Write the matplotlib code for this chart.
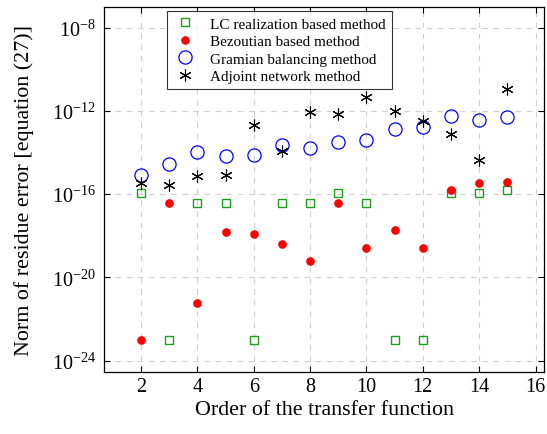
import numpy as np
import matplotlib
matplotlib.use('Agg')
import matplotlib.pyplot as plt
from matplotlib.ticker import FixedLocator, LogFormatterMathtext

plt.rcParams['font.family'] = 'Liberation Serif'
plt.rcParams['mathtext.fontset'] = 'stix'

# Dados (log10 do erro)
ordem = [2, 3, 4, 5, 6, 7, 8, 9, 10, 11, 12, 13, 14, 15]
log_lc = [-15.97, -23.0, -16.43, -16.43, -23.0, -16.43, -16.43,
          -15.95, -16.43, -23.0, -23.0, -15.95, -15.95, -15.79]
log_bezout = [-23.0, -16.43, -21.25, -17.84, -17.94, -18.42, -19.23,
              -16.43, -18.61, -17.74, -18.61, -15.78, -15.47, -15.42]
log_gramian = [-15.07, -14.56, -13.97, -14.16, -14.11, -13.65, -13.81,
               -13.49, -13.41, -12.88, -12.78, -12.24, -12.42, -12.29]
log_adjoint = [-15.49, -15.57, -15.12, -15.09, -12.69, -13.92, -12.05,
               -12.16, -11.36, -12.0, -12.48, -13.12, -14.35, -10.93]

erro_lc = 10.0 ** np.array(log_lc)
erro_bezout = 10.0 ** np.array(log_bezout)
erro_gramian = 10.0 ** np.array(log_gramian)
erro_adjoint = 10.0 ** np.array(log_adjoint)

fig = plt.figure(figsize=(5.47, 4.35), dpi=100)
ax = fig.add_axes([0.1907, 0.1418, 0.8038, 0.8405])

ax.plot(ordem, erro_lc, linestyle='none', marker='s', markersize=6,
        markerfacecolor='none', markeredgecolor='#1aa01a', markeredgewidth=1.0,
        label='LC realization based method')
ax.plot(ordem, erro_bezout, linestyle='none', marker='o', markersize=5.2,
        color='red', label='Bezoutian based method')
ax.plot(ordem, erro_gramian, linestyle='none', marker='o', markersize=9.5,
        markerfacecolor='none', markeredgecolor='blue', markeredgewidth=0.9,
        label='Gramian balancing method')
ax.plot(ordem, erro_adjoint, linestyle='none', marker=(6, 2, 0), markersize=8.5,
        color='black', markeredgewidth=0.8, label='Adjoint network method')

ax.set_yscale('log')
ax.set_xlim(0.7, 16.3)
ax.set_ylim(10 ** -24.56, 10 ** -7.0)
ax.set_xticks([2, 4, 6, 8, 10, 12, 14, 16])
ax.yaxis.set_major_locator(FixedLocator([1e-24, 1e-20, 1e-16, 1e-12, 1e-8]))
ax.yaxis.set_major_formatter(LogFormatterMathtext())
ax.yaxis.set_minor_locator(FixedLocator([]))

ax.tick_params(direction='in', top=True, right=True, labelsize=14.5, length=4,
               width=0.8)
ax.tick_params(axis='y', pad=6)
ax.grid(True, linestyle=(0, (5, 5)), color='#d0d0d0', linewidth=0.8)
for s in ax.spines.values():
    s.set_linewidth(0.9)

ax.set_xlabel('Order of the transfer function', fontsize=15.8)
ax.set_ylabel('Norm of residue error [equation (27)]', fontsize=15.8)
ax.yaxis.set_label_coords(-0.160, 0.5)
ax.xaxis.set_label_coords(0.5, -0.0758)

leg = ax.legend(loc='upper left', bbox_to_anchor=(0.143, 0.989), fontsize=11,
                frameon=True, fancybox=False, edgecolor='black',
                handletextpad=0.9, labelspacing=0.25, borderpad=0.4,
                handlelength=1.5, borderaxespad=0)
leg.get_frame().set_linewidth(0.8)

plt.savefig('out.png', dpi=100)
